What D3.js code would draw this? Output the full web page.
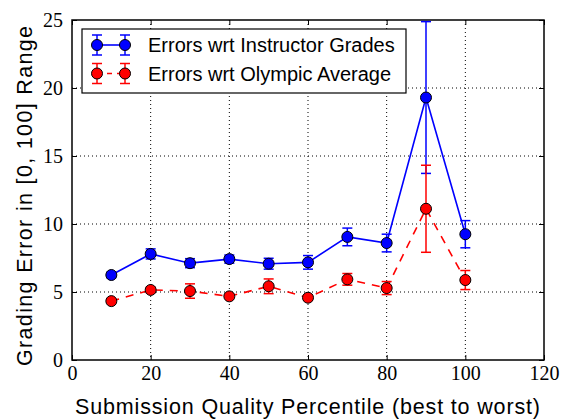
<!DOCTYPE html>
<html><head><meta charset="utf-8">
<script src="https://cdn.jsdelivr.net/npm/d3@7"></script>
<style>body{margin:0;background:#fff}</style>
</head><body>
<svg id="c" width="563" height="419"></svg>
<script>
const percentiles = [10,20,30,40,50,60,70,80,90,100];
const instructorErr = [6.25,7.8,7.12,7.42,7.08,7.18,9.05,8.6,19.3,9.25];
const instructorSd  = [0.2,0.37,0.33,0.3,0.4,0.5,0.65,0.65,5.58,1.0];
const olympicErr = [4.33,5.15,5.07,4.68,5.42,4.58,5.93,5.29,11.12,5.88];
const olympicSd  = [0.12,0.2,0.53,0.15,0.54,0.2,0.43,0.48,3.2,0.7];
const xTicks = [0,20,40,60,80,100,120];
const yTicks = [0,5,10,15,20,25];
const seriesNames = ["Errors wrt Instructor Grades","Errors wrt Olympic Average"];

const svg = d3.select("#c");
const L=72, R=544, T=20, B=360;
const x = d3.scaleLinear().domain([0,120]).range([L,R]);
const y = d3.scaleLinear().domain([0,25]).range([B,T]);
const serif = "'Liberation Serif','DejaVu Serif',serif";
const sans = "'Liberation Sans',Arial,sans-serif";

// grid
const g = svg.append("g");
g.selectAll(".gx").data(xTicks.slice(1,-1)).enter().append("line")
 .attr("x1",d=>x(d)).attr("x2",d=>x(d)).attr("y1",T).attr("y2",B)
 .attr("stroke","#000").attr("stroke-width",1).attr("stroke-dasharray","1,3");
g.selectAll(".gy").data(yTicks.slice(1,-1)).enter().append("line")
 .attr("y1",d=>y(d)).attr("y2",d=>y(d)).attr("x1",L).attr("x2",R)
 .attr("stroke","#000").attr("stroke-width",1).attr("stroke-dasharray","1,3");

// axes
const xa = svg.append("g").attr("transform",`translate(0,${B})`)
 .call(d3.axisBottom(x).tickValues(xTicks).tickSize(-5).tickPadding(6).tickFormat(d3.format("d")));
const xt = svg.append("g").attr("transform",`translate(0,${T})`)
 .call(d3.axisTop(x).tickValues(xTicks).tickSize(-5).tickFormat(""));
const ya = svg.append("g").attr("transform",`translate(${L},0)`)
 .call(d3.axisLeft(y).tickValues(yTicks).tickSize(-5).tickPadding(9).tickFormat(d3.format("d")));
const yr = svg.append("g").attr("transform",`translate(${R},0)`)
 .call(d3.axisRight(y).tickValues(yTicks).tickSize(-5).tickFormat(""));
[xa,xt,ya,yr].forEach(a=>{a.select(".domain").remove();a.selectAll("line").attr("stroke","#000");});
[xa,ya].forEach(a=>a.selectAll("text").attr("font-family",serif).attr("font-size",20).attr("fill","#000"));
svg.append("rect").attr("x",L).attr("y",T).attr("width",R-L).attr("height",B-T)
 .attr("fill","none").attr("stroke","#000").attr("stroke-width",1.5);

function drawSeries(vals, sds, color, dash){
  const pts = percentiles.map((p,i)=>({p,v:vals[i],s:sds[i]}));
  const line = d3.line().x(d=>x(d.p)).y(d=>y(d.v));
  const gg = svg.append("g");
  gg.append("path").datum(pts).attr("d",line).attr("fill","none")
    .attr("stroke",color).attr("stroke-width",1.6).attr("stroke-dasharray",dash);
  const eb = gg.selectAll(".eb").data(pts).enter().append("g");
  eb.append("line").attr("x1",d=>x(d.p)).attr("x2",d=>x(d.p))
    .attr("y1",d=>y(d.v-d.s)).attr("y2",d=>y(d.v+d.s)).attr("stroke",color).attr("stroke-width",1.5);
  [-1,1].forEach(k=>{
    eb.append("line").attr("x1",d=>x(d.p)-5).attr("x2",d=>x(d.p)+5)
      .attr("y1",d=>y(d.v+k*d.s)).attr("y2",d=>y(d.v+k*d.s)).attr("stroke",color).attr("stroke-width",1.5);
  });
  gg.selectAll("circle").data(pts).enter().append("circle")
    .attr("cx",d=>x(d.p)).attr("cy",d=>y(d.v)).attr("r",5.5)
    .attr("fill",color).attr("stroke","#000").attr("stroke-width",1);
}
drawSeries(instructorErr, instructorSd, "#0000ff", null);
drawSeries(olympicErr, olympicSd, "#ff0000", "8,7");

// legend
const lg = svg.append("g");
lg.append("rect").attr("x",82).attr("y",29).attr("width",324).attr("height",64)
  .attr("fill","#fff").attr("stroke","#000").attr("stroke-width",1.2);
const legendColors = ["#0000ff","#ff0000"];
seriesNames.forEach((name,i)=>{
  const cy = 45 + i*28.5, c = legendColors[i];
  lg.append("line").attr("x1",97).attr("x2",125).attr("y1",cy).attr("y2",cy)
    .attr("stroke",c).attr("stroke-width",1.6).attr("stroke-dasharray",i?"5,5":null);
  [97,125].forEach(cx=>{
    lg.append("line").attr("x1",cx).attr("x2",cx).attr("y1",cy-10).attr("y2",cy+10).attr("stroke",c).attr("stroke-width",1.5);
    lg.append("line").attr("x1",cx-5).attr("x2",cx+5).attr("y1",cy-10).attr("y2",cy-10).attr("stroke",c).attr("stroke-width",1.5);
    lg.append("line").attr("x1",cx-5).attr("x2",cx+5).attr("y1",cy+10).attr("y2",cy+10).attr("stroke",c).attr("stroke-width",1.5);
    lg.append("circle").attr("cx",cx).attr("cy",cy).attr("r",5.5).attr("fill",c).attr("stroke","#000");
  });
  lg.append("text").attr("x",148).attr("y",cy+7).text(name)
    .attr("font-family",sans).attr("font-size",20).attr("fill","#000");
});

// axis labels
svg.append("text").attr("x",(75+540)/2).attr("y",414).attr("text-anchor","middle")
  .attr("font-family",sans).attr("font-size",21.5)
  .attr("textLength",465).attr("lengthAdjust","spacing")
  .text("Submission Quality Percentile (best to worst)");
svg.append("text").attr("transform",`translate(32,196) rotate(-90)`).attr("text-anchor","middle")
  .attr("font-family",sans).attr("font-size",21.5)
  .attr("textLength",340).attr("lengthAdjust","spacing")
  .text("Grading Error in [0, 100] Range");
</script>
</body></html>
